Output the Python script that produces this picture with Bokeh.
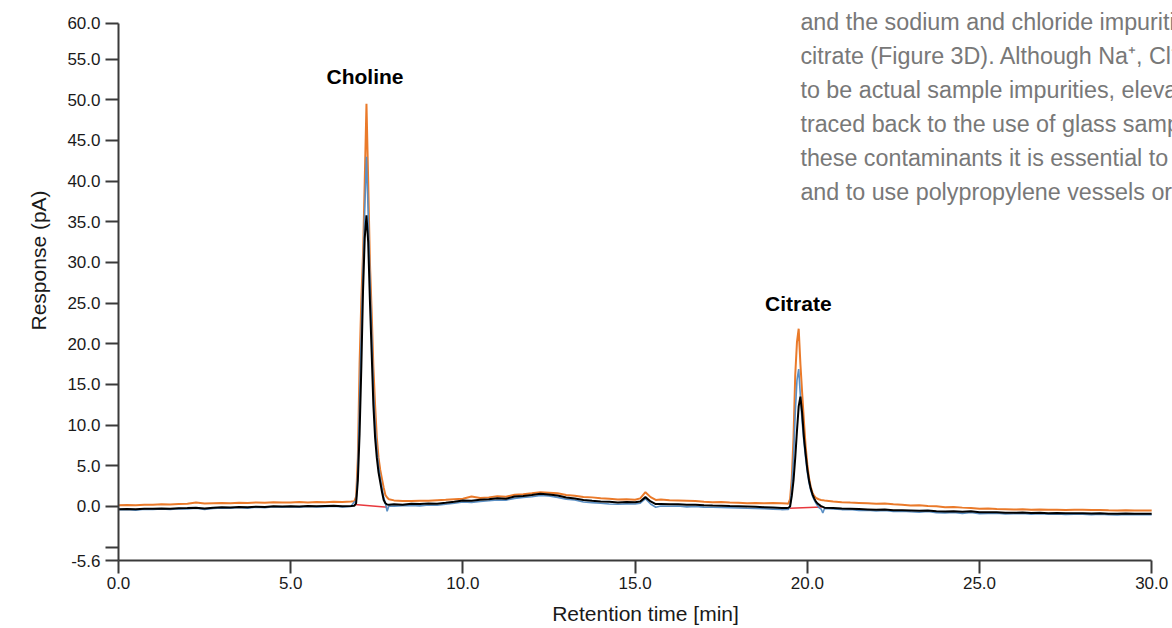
from bokeh.plotting import figure
from bokeh.models import Label, FixedTicker, NumeralTickFormatter, Range1d, Title
from bokeh.embed import file_html
from bokeh.resources import INLINE

# ---------------- data ----------------
time_min = [
    0.0, 0.25, 0.5, 0.75, 1.0, 1.25, 1.5, 1.75, 2.0, 2.25, 2.5, 2.75, 3.0, 3.25,
    3.5, 3.75, 4.0, 4.25, 4.5, 4.75, 5.0, 5.25, 5.5, 5.75, 6.0, 6.25, 6.5, 6.75,
    6.85,
    6.9, 6.95, 7.0, 7.05, 7.1, 7.15, 7.2, 7.25, 7.3, 7.35, 7.4, 7.45, 7.5, 7.55,
    7.6, 7.65, 7.7, 7.75, 7.8, 7.85,
    8.0, 8.25, 8.5, 8.75, 9.0, 9.25, 9.5, 9.75, 10.0, 10.25, 10.5, 10.75, 11.0,
    11.25, 11.5, 11.75, 12.0, 12.25, 12.5, 12.75, 13.0, 13.25, 13.5, 13.75, 14.0,
    14.25, 14.5, 14.75, 15.0, 15.15, 15.3, 15.45, 15.6, 15.75, 16.0, 16.25, 16.5,
    16.75, 17.0, 17.25, 17.5, 17.75, 18.0, 18.25, 18.5, 18.75, 19.0, 19.25, 19.4,
    19.45, 19.5, 19.55, 19.6, 19.65, 19.7, 19.75, 19.8, 19.85, 19.9, 19.95, 20.0,
    20.05, 20.1, 20.15, 20.2, 20.25, 20.3, 20.35, 20.4, 20.45, 20.5,
    20.75, 21.0, 21.25, 21.5, 21.75, 22.0, 22.25, 22.5, 22.75, 23.0, 23.25, 23.5,
    23.75, 24.0, 24.25, 24.5, 24.75, 25.0, 25.25, 25.5, 25.75, 26.0, 26.25, 26.5,
    26.75, 27.0, 27.25, 27.5, 27.75, 28.0, 28.25, 28.5, 28.75, 29.0, 29.25, 29.5,
    29.75, 30.0,
]

response_black = [
    -0.33, -0.30, -0.34, -0.27, -0.29, -0.24, -0.27, -0.21, -0.20, -0.15, -0.24, -0.17, -0.10, -0.12,
    -0.06, -0.09, -0.02, -0.05, 0.02, -0.01, 0.04, 0.0, 0.06, 0.02, 0.05, 0.08, 0.03, 0.06,
    0.10,
    0.4, 3.2, 8.9, 17.0, 26.5, 33.0, 35.8, 32.5, 25.3, 19.0, 12.5, 8.5, 6.0, 4.2,
    3.0, 1.8, 0.8, 0.4, 0.25, 0.22,
    0.28, 0.22, 0.33, 0.30, 0.38, 0.35, 0.45, 0.58, 0.74, 0.70, 0.82, 0.88, 1.00,
    0.95, 1.23, 1.30, 1.42, 1.56, 1.48, 1.35, 1.10, 0.98, 0.80, 0.70, 0.62,
    0.58, 0.50, 0.55, 0.52, 0.60, 1.15, 0.62, 0.30, 0.32, 0.26, 0.28, 0.20,
    0.22, 0.15, 0.12, 0.10, 0.05, 0.04, 0.0, -0.04, -0.08, -0.12, -0.20, -0.18,
    -0.15, 0.0, 1.3, 3.2, 6.0, 9.3, 12.3, 13.5, 11.5, 8.6, 6.5, 4.6,
    3.2, 2.2, 1.5, 1.0, 0.6, 0.35, 0.2, 0.05, -0.05, -0.15,
    -0.18, -0.25, -0.28, -0.32, -0.36, -0.41, -0.38, -0.45, -0.46, -0.49, -0.52, -0.50,
    -0.58, -0.62, -0.60, -0.66, -0.58, -0.70, -0.72, -0.70, -0.76, -0.78, -0.74, -0.80,
    -0.78, -0.82, -0.80, -0.84, -0.82, -0.82, -0.86, -0.84, -0.88, -0.90, -0.87, -0.90,
    -0.89, -0.90,
]

response_orange = [
    0.15, 0.18, 0.14, 0.22, 0.20, 0.26, 0.24, 0.30, 0.33, 0.48, 0.36, 0.40, 0.44, 0.41,
    0.47, 0.43, 0.50, 0.46, 0.52, 0.48, 0.50, 0.54, 0.49, 0.55, 0.52, 0.58, 0.54, 0.60,
    0.65,
    1.2, 6.0, 17.5, 25.3, 31.0, 40.0, 49.5, 40.0, 30.0, 24.0, 17.2, 12.5, 8.5, 6.0,
    4.5, 3.4, 2.3, 1.4, 1.1, 0.9,
    0.75, 0.68, 0.66, 0.72, 0.70, 0.78, 0.82, 0.90, 0.95, 1.23, 1.05, 1.12, 1.25,
    1.20, 1.43, 1.50, 1.62, 1.76, 1.70, 1.62, 1.40, 1.32, 1.18, 1.12, 1.00,
    0.95, 0.86, 0.88, 0.82, 1.00, 1.76, 1.15, 0.80, 0.85, 0.78, 0.74, 0.70,
    0.66, 0.58, 0.53, 0.55, 0.48, 0.45, 0.41, 0.43, 0.40, 0.42, 0.40, 0.38,
    0.35, 0.9, 3.5, 8.5, 16.2, 20.2, 21.85, 17.5, 14.0, 10.6, 7.5, 5.2,
    3.5, 2.4, 1.7, 1.3, 1.05, 0.95, 0.85, 0.8, 0.78, 0.74,
    0.62, 0.53, 0.48, 0.44, 0.40, 0.33, 0.36, 0.26, 0.22, 0.12, 0.14, 0.06,
    0.02, -0.08, -0.05, -0.14, -0.20, -0.29, -0.26, -0.32, -0.34, -0.37, -0.35, -0.40,
    -0.38, -0.41, -0.39, -0.42, -0.40, -0.41, -0.44, -0.42, -0.46, -0.49, -0.46, -0.49,
    -0.48, -0.49,
]

response_blue = [
    -0.40, -0.36, -0.45, -0.32, -0.38, -0.30, -0.36, -0.26, -0.30, -0.22, -0.35, -0.24, -0.18, -0.21,
    -0.12, -0.20, -0.08, -0.14, -0.04, -0.10, -0.02, -0.08, 0.00, -0.06, -0.02, 0.02, -0.05, 0.00,
    0.60,
    0.5, 4.5, 13.0, 21.5, 29.0, 36.5, 43.0, 36.0, 28.0, 21.5, 14.5, 10.0, 7.0, 5.0,
    3.5, 2.3, 1.1, 0.4, -0.6, 0.05,
    0.05, 0.10, 0.12, 0.08, 0.18, 0.15, 0.28, 0.40, 0.55, 0.50, 0.62, 0.70, 0.80,
    0.78, 1.00, 1.12, 1.20, 1.35, 1.30, 1.12, 0.90, 0.80, 0.55, 0.48, 0.40,
    0.30, 0.28, 0.32, 0.30, 0.40, 0.95, 0.30, -0.10, 0.05, 0.02, 0.05, -0.05,
    0.0, -0.08, -0.10, -0.12, -0.15, -0.18, -0.22, -0.25, -0.28, -0.32, -0.38, -0.35,
    -0.35, 0.0, 2.5, 6.0, 11.5, 15.5, 16.9, 13.5, 10.5, 8.0, 6.0, 4.2,
    2.9, 2.0, 1.3, 0.8, 0.4, 0.1, -0.2, -0.3, -0.8, -0.25,
    -0.30, -0.38, -0.35, -0.48, -0.45, -0.55, -0.50, -0.62, -0.58, -0.65, -0.70, -0.62,
    -0.75, -0.78, -0.72, -0.85, -0.74, -0.90, -0.86, -0.82, -0.92, -0.90, -0.86, -0.95,
    -0.90, -0.94, -0.92, -0.98, -0.94, -0.95, -1.00, -0.96, -1.02, -1.04, -0.98, -1.02,
    -1.00, -1.02,
]

# integration baselines (start/end time, start/end response)
baseline_t0 = [6.86, 19.49]
baseline_t1 = [7.81, 20.42]
baseline_y0 = [0.25, -0.22]
baseline_y1 = [-0.10, -0.05]

peak_names = ["Choline", "Citrate"]
peak_label_t = [7.157, 19.74]
peak_label_y = [52.86, 24.97]

x_ticks = [0, 5, 10, 15, 20, 25, 30]
y_bottom, y_top_tick = -6.64, 59.41
y_ticks = [y_bottom, -5, 0, 5, 10, 15, 20, 25, 30, 35, 40, 45, 50, 55, y_top_tick]
y_overrides = {y_bottom: "-5.6", -5: "", y_top_tick: "60.0"}

paragraph_lines = [
    "and the sodium and chloride impurities",
    "citrate (Figure 3D). Although Na\u207a, Cl\u207b,",
    "to be actual sample impurities, elevated",
    "traced back to the use of glass sample",
    "these contaminants it is essential to",
    "and to use polypropylene vessels or",
]
paragraph_y = [59.50, 55.32, 51.22, 46.99, 42.90, 38.72]
paragraph_t = 19.80

# ---------------- figure ----------------
FONT = "Liberation Sans"

p = figure(width=1172, height=628, output_backend="svg", toolbar_location=None,
           x_range=Range1d(0, 30.604), y_range=Range1d(y_bottom, 62.2),
           min_border_left=118, min_border_right=0, min_border_top=0,
           min_border_bottom=68)
p.outline_line_color = None
p.grid.visible = False
p.background_fill_color = "white"
p.border_fill_color = "white"

for ax in (p.xaxis[0], p.yaxis[0]):
    ax.axis_line_color = "#3a3a3a"
    ax.axis_line_width = 2
    ax.major_tick_line_color = "#3a3a3a"
    ax.major_tick_line_width = 2
    ax.major_tick_out = 13
    ax.major_tick_in = 0
    ax.minor_tick_line_color = None
    ax.major_label_text_font = FONT
    ax.major_label_text_font_size = "17px"
    ax.major_label_text_color = "#1a1a1a"

p.xaxis.ticker = FixedTicker(ticks=x_ticks)
p.xaxis.formatter = NumeralTickFormatter(format="0.0")
p.xaxis.major_label_standoff = 3
p.xaxis.bounds = (0, 30)
p.xaxis.axis_label = "Retention time [min]"
p.xaxis.axis_label_text_font = FONT
p.xaxis.axis_label_text_font_size = "21px"
p.xaxis.axis_label_text_font_style = "normal"
p.xaxis.axis_label_text_color = "#1a1a1a"
p.xaxis.axis_label_standoff = 10

p.yaxis.ticker = FixedTicker(ticks=y_ticks)
p.yaxis.formatter = NumeralTickFormatter(format="0.0")
p.yaxis.major_label_overrides = y_overrides
p.yaxis.major_label_standoff = 5
p.yaxis.bounds = (y_bottom, y_top_tick)

ytitle = Title(text="Response (pA)", align="left", offset=230, standoff=30,
               text_font=FONT, text_font_size="21px", text_font_style="normal",
               text_color="#1a1a1a")
p.add_layout(ytitle, "left")

# baselines
p.segment(x0=baseline_t0, y0=baseline_y0, x1=baseline_t1, y1=baseline_y1,
          line_color="#e8383d", line_width=1.5)

p.line(time_min, response_orange, line_color="#ea7a2a", line_width=2)
p.line(time_min, response_blue, line_color="#5a8fc4", line_width=1.6)
p.line(time_min, response_black, line_color="#000000", line_width=2)

for name, t, y in zip(peak_names, peak_label_t, peak_label_y):
    p.add_layout(Label(x=t, y=y, text=name, text_align="center",
                       text_baseline="middle", text_font=FONT,
                       text_font_style="bold", text_font_size="21px",
                       text_color="#000000"))

for line, y in zip(paragraph_lines, paragraph_y):
    p.add_layout(Label(x=paragraph_t, y=y, text=line, text_align="left",
                       text_baseline="middle", text_font=FONT,
                       text_font_size="23.3px", text_color="#787878"))

open("out.html", "w").write(file_html(p, INLINE))
